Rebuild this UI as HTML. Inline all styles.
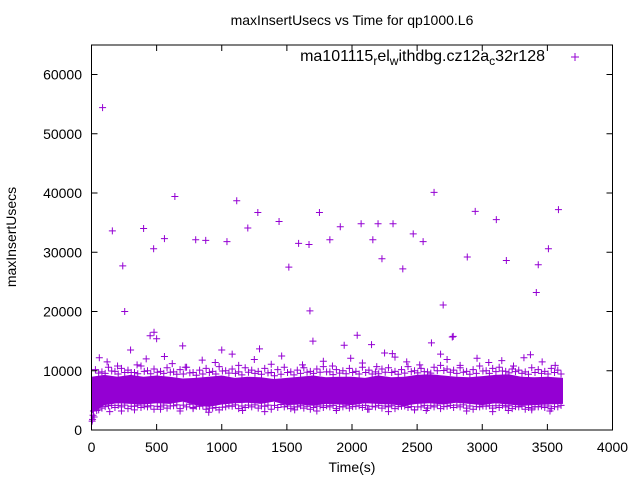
<!DOCTYPE html>
<html><head><meta charset="utf-8"><style>
html,body{margin:0;padding:0;background:#fff;}
svg{display:block;font-family:"Liberation Sans",sans-serif;}
</style></head><body>
<svg id="chart" width="640" height="480" viewBox="0 0 640 480">
<rect x="0" y="0" width="640" height="480" fill="#fff"/>
<text x="352" y="25" text-anchor="middle" font-size="14" fill="#000">maxInsertUsecs vs Time for qp1000.L6</text>
<text transform="translate(16,237) rotate(-90)" text-anchor="middle" font-size="14" fill="#000">maxInsertUsecs</text>
<text x="352" y="472" text-anchor="middle" font-size="14" fill="#000">Time(s)</text>
<g id="band"></g>
<g id="marks"></g>
<g id="axes"></g>
<text x="545" y="61" text-anchor="end" font-size="16" fill="#000">ma101115<tspan font-size="12" dy="4">r</tspan><tspan dy="-4">el</tspan><tspan font-size="12" dy="4">w</tspan><tspan dy="-4">ithdbg.cz12a</tspan><tspan font-size="12" dy="4">c</tspan><tspan dy="-4">32r128</tspan></text>
<g><line x1="571" y1="57" x2="579" y2="57" stroke="#9400d3" stroke-width="1"/><line x1="575" y1="53" x2="575" y2="61" stroke="#9400d3" stroke-width="1"/></g>
</svg>
<script>
const xTicks=[0,500,1000,1500,2000,2500,3000,3500,4000];
const yTicks=[0,10000,20000,30000,40000,50000,60000];
const bandTimes=[0,100,200,300,400,500,600,700,800,900,1000,1100,1200,1300,1400,1500,1600,1700,1800,1900,2000,2100,2200,2300,2400,2500,2600,2700,2800,2900,3000,3100,3200,3300,3400,3500,3620];
const bandHi=[9000,9300,9000,9300,9000,9200,9000,8700,8800,9000,9200,8800,9000,8900,8600,8800,9000,9200,8900,9000,9000,8800,9200,8900,9000,9300,9400,9200,9000,8900,9100,9300,9400,9000,8900,9000,8800];
const bandLo=[2800,4200,4500,4400,4300,4500,4400,4800,4200,3900,4300,4500,4600,4400,4800,4200,4300,4100,4400,4300,4200,4500,4400,4300,4100,4400,4500,4300,4600,4400,4200,4500,4300,4100,4200,4300,4400];
const fringeTimes=[30,80,130,180,230,280,330,380,430,480,530,580,630,680,730,780,830,880,930,980,1030,1080,1130,1180,1230,1280,1330,1380,1430,1480,1530,1580,1630,1680,1730,1780,1830,1880,1930,1980,2030,2080,2130,2180,2230,2280,2330,2380,2430,2480,2530,2580,2630,2680,2730,2780,2830,2880,2930,2980,3030,3080,3130,3180,3230,3280,3330,3380,3430,3480,3530,3580];
const fringeHi=[10200,9800,10600,9900,10400,10100,9700,10800,10000,10300,9900,10500,9800,10200,10600,9700,10100,10400,9900,10700,10000,10300,9800,10500,10100,9900,10400,9700,10200,10600,9800,10100,10500,9900,10300,10700,9800,10200,10000,10400,9900,10600,10100,9800,10300,10500,9900,10200,10700,10000,10400,9800,10600,10900,10300,10100,10500,9900,10200,10800,10000,10400,10600,9900,10300,10100,9800,10500,10200,9900,10400,10100];
const fringeLo=[4000,3700,4100,3800,3900,3600,4000,3800,3900,3500,3900,3700,4100,3600,3900,3800,4000,3500,3700,3400,3900,4000,3600,3800,3900,3700,4000,3500,3800,3900,3600,3900,3700,3500,4000,3800,3900,3600,3900,3700,4000,3800,3500,3900,3700,3900,3600,4000,3800,3400,3900,3700,3900,3600,4000,3800,3900,3700,3500,3900,4000,3700,3800,3900,3600,3900,3500,3700,3900,3800,3600,3900];
const ptTimes=[85,160,240,255,400,477,560,640,800,877,1040,1115,1200,1277,1440,1515,1590,1670,1677,1750,1830,1910,2070,2160,2200,2230,2315,2390,2470,2546,2630,2700,2777,2885,2946,3108,3185,3415,3430,3508,3585,
450,500,480,700,1000,1080,1290,1700,2040,2610,2770,1940,2310,2150,2250,3370,
5,8,12,15,20,
60,120,200,300,350,420,560,620,720,850,950,1130,1250,1380,1460,1620,1780,1850,1990,2080,2190,2330,2420,2520,2680,2730,2830,2960,3050,3150,3240,3320,3460,3560,
40,140,230,330,530,680,780,900,1160,1330,1560,1730,1880,2120,2280,2480,2570,2880,3080,3200,3380,3520];
const ptValues=[54400,33600,27700,20000,34000,30600,32300,39400,32100,32000,31800,38700,34100,36700,35200,27500,31500,31300,20100,36700,32100,34300,34800,32100,34800,28900,34800,27200,33100,31800,40100,21100,15800,29200,36900,35500,28600,23200,27900,30600,37200,
15900,15400,16500,14200,13500,12800,13700,15000,16000,14700,15700,14300,12900,14400,13000,12700,
1500,1800,2500,3200,2200,
12200,11500,10800,13500,11000,12000,12400,11200,10600,11800,11400,10900,11900,11100,12500,11000,11600,10800,12100,11300,10700,12300,11500,11000,12800,11900,10900,12100,11400,11700,10800,12200,11500,10900,
3300,3100,3200,3400,3500,3200,3600,3000,3300,3100,3400,3200,3300,3500,3100,3400,3300,3200,3100,3300,3400,3200];
const X0=91.5,X1=612.5,Y0=430,Y1=74.5;
function xs(t){return X0+(t-0)/4000*(X1-X0);}
function ys(v){return Y0-v/60000*(Y0-Y1);}
const NS='http://www.w3.org/2000/svg';
const col='#9400d3';
function plus(parent,x,y,name){
  const g=document.createElementNS(NS,'path');
  g.setAttribute('d',`M${x-3.5} ${y}H${x+3.5}M${x} ${y-3.5}V${y+3.5}`);
  g.setAttribute('stroke',col);g.setAttribute('fill','none');
  
  
  parent.appendChild(g);
}
const band=document.getElementById('band');
let d='';
bandTimes.forEach((t,i)=>{d+=(i?'L':'M')+xs(t).toFixed(1)+' '+ys(bandHi[i]).toFixed(1);});
for(let i=bandTimes.length-1;i>=0;i--){d+='L'+xs(bandTimes[i]).toFixed(1)+' '+ys(bandLo[i]).toFixed(1);}
const poly=document.createElementNS(NS,'path');
poly.setAttribute('d',d+'Z');poly.setAttribute('fill',col);


band.appendChild(poly);
fringeTimes.forEach((t,i)=>{
  const k=Math.min(36,Math.round(t/100));
  plus(band,xs(t),ys(fringeHi[i]),'band-top-point');
  plus(band,xs(t+25),ys((fringeHi[i]+bandHi[k])/2),'band-top-point');
  plus(band,xs(t),ys(fringeLo[i]),'band-bottom-point');
  plus(band,xs(t+25),ys((fringeLo[i]+bandLo[k])/2),'band-bottom-point');
});
const marks=document.getElementById('marks');
ptTimes.forEach((t,i)=>{plus(marks,xs(t),ys(ptValues[i]),'data-point');});
const axes=document.getElementById('axes');
const frame=document.createElementNS(NS,'rect');
frame.setAttribute('x',X0);frame.setAttribute('y',45);frame.setAttribute('width',X1-X0);frame.setAttribute('height',Y0-45);
frame.setAttribute('fill','none');frame.setAttribute('stroke','#000');


axes.appendChild(frame);
xTicks.forEach(t=>{
  const x=xs(t);
  const p=document.createElementNS(NS,'path');
  p.setAttribute('d',`M${x} ${Y0}v-6M${x} 45v6`);p.setAttribute('stroke','#000');
  
  
  axes.appendChild(p);
  const tx=document.createElementNS(NS,'text');
  tx.setAttribute('x',x);tx.setAttribute('y',452);tx.setAttribute('text-anchor','middle');tx.setAttribute('font-size','14');
  tx.textContent=t;
  
  
  axes.appendChild(tx);
});
yTicks.forEach(v=>{
  const y=ys(v);
  const p=document.createElementNS(NS,'path');
  p.setAttribute('d',`M${X0} ${y}h6M${X1} ${y}h-6`);p.setAttribute('stroke','#000');
  
  
  axes.appendChild(p);
  const tx=document.createElementNS(NS,'text');
  tx.setAttribute('x',82);tx.setAttribute('y',y+5);tx.setAttribute('text-anchor','end');tx.setAttribute('font-size','14');
  tx.textContent=v;
  
  
  axes.appendChild(tx);
});
</script>
</body></html>
